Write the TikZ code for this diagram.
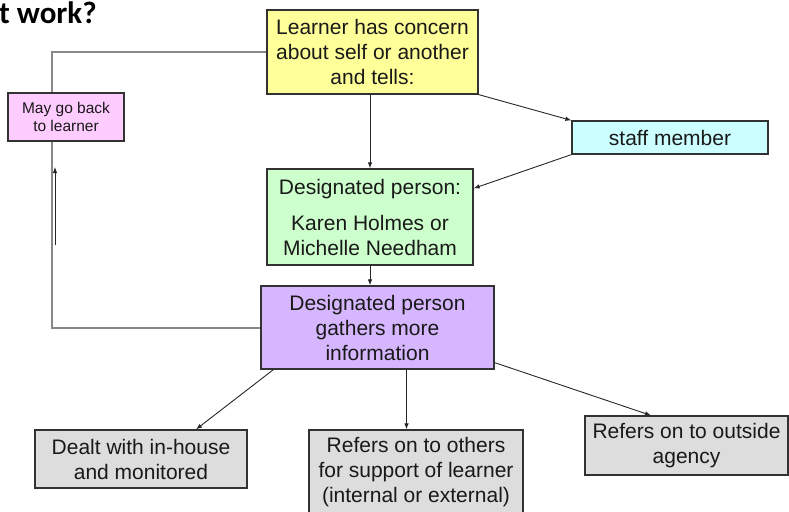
\documentclass[tikz,border=0pt]{standalone}
\usepackage{fontspec}
\setmainfont{Liberation Sans}
\newfontfamily\titlefont{Carlito}
\usetikzlibrary{arrows.meta,calc}
\definecolor{cyel}{RGB}{255,255,153}
\definecolor{ccyan}{RGB}{204,255,255}
\definecolor{cgreen}{RGB}{204,255,204}
\definecolor{cpurple}{RGB}{214,182,255}
\definecolor{cpink}{RGB}{255,204,255}
\definecolor{cgrey}{RGB}{221,221,221}
\definecolor{cborder}{RGB}{50,50,50}
\definecolor{cgline}{RGB}{136,136,136}
\definecolor{ctext}{RGB}{25,25,25}
\tikzset{
  box/.style={draw=cborder, line width=1.2pt, rectangle, align=center, inner sep=0pt,
    text=ctext, font=\fontsize{21}{25}\selectfont},
  smallbox/.style={box, font=\fontsize{15.5}{18}\selectfont},
  arr/.style={draw=black!85, line width=0.9pt, -{Latex[length=6pt,width=4.5pt]}},
  gline/.style={draw=cgline, line width=2pt},
}
\begin{document}
\begin{tikzpicture}[x=1pt,y=-1pt]
\useasboundingbox (0,0) rectangle (789,511);
\node[anchor=base west, inner sep=0pt, font=\titlefont\bfseries\fontsize{31}{36}\selectfont] (title) at (-1,24) {t work?};

\node[box, fill=cyel, minimum width=211pt, minimum height=84pt] (yel) at (372.5,52) {Learner has concern\\about self or another\\and tells:};
\node[box, fill=ccyan, minimum width=196pt, minimum height=33pt] (staff) at (670,137.5) {staff member};
\node[box, fill=cgreen, minimum width=206pt, minimum height=96pt] (grn) at (370,217) {Designated person:\\[11pt]Karen Holmes or\\Michelle Needham};
\node[box, fill=cpurple, minimum width=233pt, minimum height=83pt] (pur) at (377.5,327.5) {Designated person\\gathers more\\information};
\node[smallbox, fill=cpink, minimum width=116pt, minimum height=48pt] (pink) at (66,117) {May go back\\to learner};
\node[box, fill=cgrey, minimum width=212pt, minimum height=58pt] (g1) at (141,459) {Dealt with in-house\\and monitored};
\node[box, fill=cgrey, minimum width=214pt, minimum height=84pt] (g2) at (416,472) {Refers on to others\\for support of learner\\(internal or external)};
\node[box, fill=cgrey, minimum width=203pt, minimum height=59pt] (g3) at (686.5,445.5) {Refers on to outside\\agency};

\coordinate (ua) at (55,245);
\coordinate (ub) at (55,167);

\draw[gline] (pur.west) -| ([xshift=-14pt]pink.south);
\draw[gline] ([xshift=-14pt]pink.north) |- (yel.west);
\draw[arr] (ua) -- (ub);

\draw[arr] (yel.south -| grn.north) -- (grn.north);
\draw[arr] (yel.south east) -- (staff.north west);
\draw[arr] (staff.south west) -- ([yshift=-20pt]grn.north east);
\draw[arr] (grn.south) -- (grn.south |- pur.north);
\draw[arr] ([xshift=13pt]pur.south west) -- ([xshift=55pt]g1.north);
\draw[arr] ([xshift=29pt]pur.south) -- ([xshift=29pt]pur.south |- g2.north);
\draw[arr] ([yshift=7pt]pur.south east) -- ([xshift=-35.5pt]g3.north);
\end{tikzpicture}
\end{document}
